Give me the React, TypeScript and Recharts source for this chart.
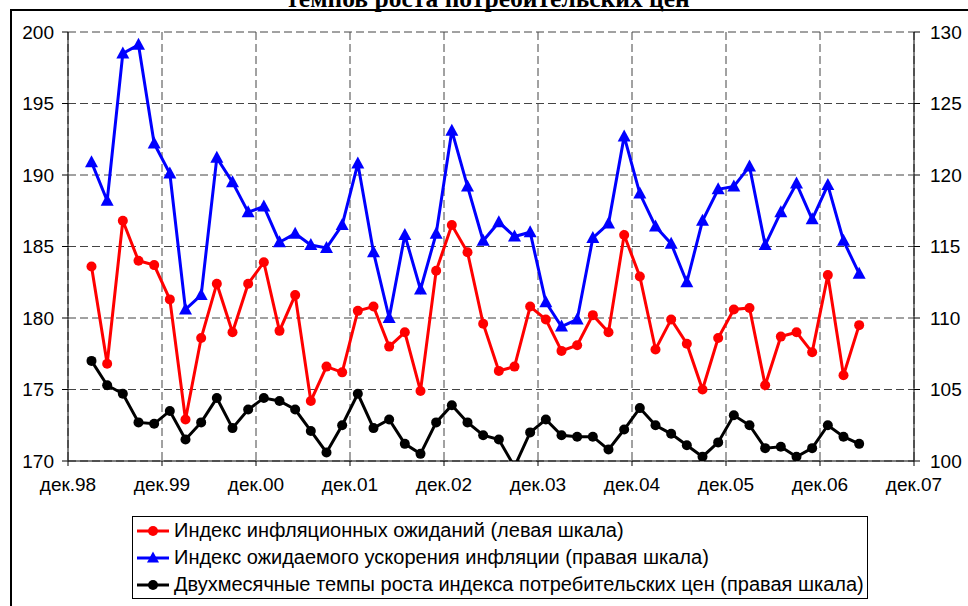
import React from 'react';
import { LineChart, Line, XAxis, YAxis, CartesianGrid, Legend } from 'recharts';

const yearLabels = ['дек.98', 'дек.99', 'дек.00', 'дек.01', 'дек.02', 'дек.03', 'дек.04', 'дек.05', 'дек.06', 'дек.07'];
const leftTicks = [170, 175, 180, 185, 190, 195, 200];
const rightTicks = [100, 105, 110, 115, 120, 125, 130];

const seriesNames = [
  'Индекс инфляционных ожиданий (левая шкала)',
  'Индекс ожидаемого ускорения инфляции (правая шкала)',
  'Двухмесячные темпы роста индекса потребительских цен (правая шкала)',
];

// Индекс инфляционных ожиданий (левая шкала)
const expectations = [
  183.6, 176.8, 186.8, 184.0, 183.7, 181.3, 172.9, 178.6, 182.4, 179.0,
  182.4, 183.9, 179.1, 181.6, 174.2, 176.6, 176.2, 180.5, 180.8, 178.0,
  179.0, 174.9, 183.3, 186.5, 184.6, 179.6, 176.3, 176.6, 180.8, 179.9,
  177.7, 178.1, 180.2, 179.0, 185.8, 182.9, 177.8, 179.9, 178.2, 175.0,
  178.6, 180.6, 180.7, 175.3, 178.7, 179.0, 177.6, 183.0, 176.0, 179.5,
];

// Индекс ожидаемого ускорения инфляции (правая шкала)
const acceleration = [
  120.9, 118.2, 128.5, 129.1, 122.2, 120.1, 110.6, 111.6, 121.2, 119.5,
  117.4, 117.8, 115.3, 115.9, 115.1, 114.9, 116.5, 120.8, 114.6, 110.0,
  115.8, 112.0, 115.9, 123.1, 119.2, 115.4, 116.7, 115.7, 116.0, 111.1,
  109.4, 109.9, 115.6, 116.6, 122.7, 118.7, 116.4, 115.2, 112.5, 116.8,
  119.0, 119.2, 120.6, 115.1, 117.4, 119.4, 116.9, 119.3, 115.4, 113.1,
];

// Двухмесячные темпы роста индекса потребительских цен (правая шкала)
const cpiGrowth = [
  107.0, 105.3, 104.7, 102.7, 102.6, 103.5, 101.5, 102.7, 104.4, 102.3,
  103.6, 104.4, 104.2, 103.6, 102.1, 100.6, 102.5, 104.7, 102.3, 102.9,
  101.2, 100.5, 102.7, 103.9, 102.7, 101.8, 101.5, 99.6, 102.0, 102.9,
  101.8, 101.7, 101.7, 100.8, 102.2, 103.7, 102.5, 101.9, 101.1, 100.3,
  101.3, 103.2, 102.5, 100.9, 101.0, 100.3, 100.9, 102.5, 101.7, 101.2,
];

// bimonthly periods counted from дек.98 (6 periods per year), value at the middle of its period
const data = expectations.map((v, i) => ({
  period: i + 1.5,
  exp: v,
  acc: acceleration[i],
  cpi: cpiGrowth[i],
}));

const xTicks = yearLabels.map((_, i) => i * 6);

const FONT = '"Liberation Sans", Arial, sans-serif';

const Triangle = (props: any) => {
  const { cx, cy, index } = props;
  if (cx == null || cy == null) return <g key={index} />;
  return (
    <polygon
      key={index}
      points={`${cx},${cy - 7} ${cx - 6.5},${cy + 5} ${cx + 6.5},${cy + 5}`}
      fill="#0000FF"
    />
  );
};

const colors = ['#FF0000', '#0000FF', '#000000'];

const LegendIcon = ({ i }: { i: number }) => (
  <svg width={34} height={14} style={{ display: 'block' }}>
    <line x1={1} y1={7} x2={33} y2={7} stroke={colors[i]} strokeWidth={3} />
    {i === 1 ? (
      <polygon points="17,0.5 11,11.5 23,11.5" fill={colors[i]} />
    ) : (
      <circle cx={17} cy={7} r={5} fill={colors[i]} />
    )}
  </svg>
);

const LegendBox = () => (
  <div
    style={{
      position: 'absolute',
      left: 0,
      top: 0,
      width: 736,
      height: 83,
      border: '1px solid #000',
      boxSizing: 'border-box',
      background: '#fff',
      fontFamily: FONT,
      fontSize: 20,
      color: '#000',
    }}
  >
    {seriesNames.map((name, i) => (
      <div
        key={name}
        style={{ position: 'absolute', left: 3, top: i * 27, height: 27, display: 'flex', alignItems: 'center', whiteSpace: 'nowrap' }}
      >
        <LegendIcon i={i} />
        <span style={{ marginLeft: 4 }}>{name}</span>
      </div>
    ))}
  </div>
);

export default function App() {
  return (
    <div style={{ position: 'absolute', left: 0, top: 0, width: 968, height: 606, overflow: 'hidden', background: '#fff' }}>
      <div
        style={{
          position: 'absolute',
          left: 10,
          top: 9,
          width: 1000,
          height: 700,
          border: '2px solid #000',
        }}
      />
      <svg width={968} height={20} style={{ position: 'absolute', left: 0, top: 0 }}>
        <text
          x={488}
          y={7}
          textAnchor="middle"
          fontFamily='"Liberation Serif", "Times New Roman", serif'
          fontWeight="bold"
          fontSize={25.5}
          fill="#000"
        >
          темпов роста потребительских цен
        </text>
      </svg>
      <div style={{ position: 'absolute', left: 0, top: 0 }}>
        <LineChart width={968} height={606} data={data} margin={{ top: 32, right: 0, left: 0, bottom: 105 }}>
          <CartesianGrid yAxisId="left" stroke="#444" strokeDasharray="8 4" />
          <XAxis
            type="number"
            dataKey="period"
            domain={[0, 54]}
            ticks={xTicks}
            interval={0}
            allowDataOverflow
            height={40}
            tickSize={5}
            tickMargin={12}
            stroke="#000"
            tickFormatter={(v: number) => yearLabels[Math.round(v / 6)]}
            tick={{ fill: '#000', fontSize: 19, fontFamily: FONT }}
          />
          <YAxis
            yAxisId="left"
            domain={[170, 200]}
            ticks={leftTicks}
            interval={0}
            allowDataOverflow
            width={68}
            tickSize={6}
            tickMargin={8}
            stroke="#000"
            tick={{ fill: '#000', fontSize: 19, fontFamily: FONT }}
          />
          <YAxis
            yAxisId="right"
            orientation="right"
            domain={[100, 130]}
            ticks={rightTicks}
            interval={0}
            allowDataOverflow
            width={54}
            tickSize={6}
            tickMargin={10}
            stroke="#000"
            tick={{ fill: '#000', fontSize: 19, fontFamily: FONT, textAnchor: 'start' }}
          />
          <Legend
            content={() => <LegendBox />}
            wrapperStyle={{ position: 'absolute', left: 132, top: 516, width: 736, height: 0, bottom: 'auto' }}
          />
          <Line
            yAxisId="right"
            dataKey="acc"
            name={seriesNames[1]}
            stroke="#0000FF"
            strokeWidth={3}
            dot={Triangle}
            activeDot={false}
            isAnimationActive={false}
          />
          <Line
            yAxisId="left"
            dataKey="exp"
            name={seriesNames[0]}
            stroke="#FF0000"
            strokeWidth={3}
            dot={{ r: 5, fill: '#FF0000', stroke: 'none' }}
            activeDot={false}
            isAnimationActive={false}
          />
          <Line
            yAxisId="right"
            dataKey="cpi"
            name={seriesNames[2]}
            stroke="#000000"
            strokeWidth={3}
            dot={{ r: 5, fill: '#000000', stroke: 'none' }}
            activeDot={false}
            isAnimationActive={false}
          />
        </LineChart>
      </div>
    </div>
  );
}
